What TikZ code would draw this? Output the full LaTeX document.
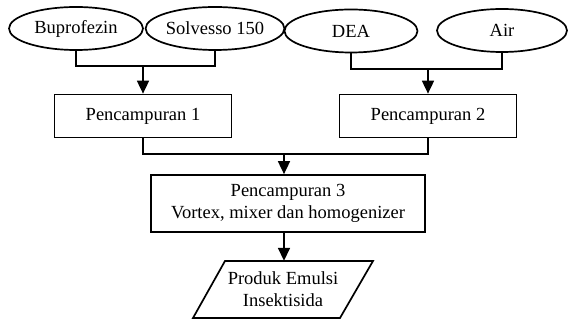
\documentclass[tikz,border=0pt]{standalone}
\usepackage{fontspec}
\setmainfont{Liberation Serif}
\usetikzlibrary{shapes.geometric,arrows.meta}
\begin{document}
\begin{tikzpicture}[x=1pt,y=-1pt,
  every node/.style={font=\fontsize{18.5}{22}\selectfont, inner sep=0pt},
  ell/.style={draw, ellipse, line width=1.7pt, minimum height=43pt},
  box/.style={draw, rectangle, line width=1.7pt, minimum height=43pt, align=center},
  conn/.style={line width=1.7pt},
  arr/.style={line width=1.7pt, -{Triangle[length=13pt,width=12pt]}}]
\useasboundingbox (0,0) rectangle (568,320);
\node[ell, minimum width=134pt] (bup) at (76,28.5) {Buprofezin};
\node[ell, minimum width=134pt] (sol) at (215,28.5) {Solvesso 150};
\node[ell, minimum width=133pt] (dea) at (351,31) {DEA};
\node[ell, minimum width=130pt] (air) at (502,30.5) {Air};
\node[box, minimum width=177pt] (p1) at (143,116) {Pencampuran 1};
\node[box, minimum width=177pt] (p2) at (428,116) {Pencampuran 2};
\node[box, minimum width=274pt, minimum height=57pt] (p3) at (288,203.5) {Pencampuran 3\\Vortex, mixer dan homogenizer};
\draw[line width=1.7pt] (225,261) -- (373,261) -- (340,318) -- (193,318) -- cycle;
\node[minimum height=57pt, minimum width=100pt, align=center] (prod) at (283,289.5) {Produk Emulsi\\Insektisida};
\coordinate (j1) at (143,66);
\coordinate (j2) at (428,69);
\coordinate (j3) at (284,154);
\coordinate (j4) at (284,232);
\draw[conn] (bup.south) |- (j1);
\draw[conn] (sol.south) |- (j1);
\draw[arr] (j1) -- (p1.north);
\draw[conn] (dea.south) |- (j2);
\draw[conn] (air.south) |- (j2);
\draw[arr] (j2) -- (p2.north);
\draw[conn] (p1.south) |- (j3);
\draw[conn] (p2.south) |- (j3);
\draw[arr] (j3) -- (j3 |- p3.north);
\draw[arr] (j4) -- (j4 |- prod.north);
\end{tikzpicture}
\end{document}
